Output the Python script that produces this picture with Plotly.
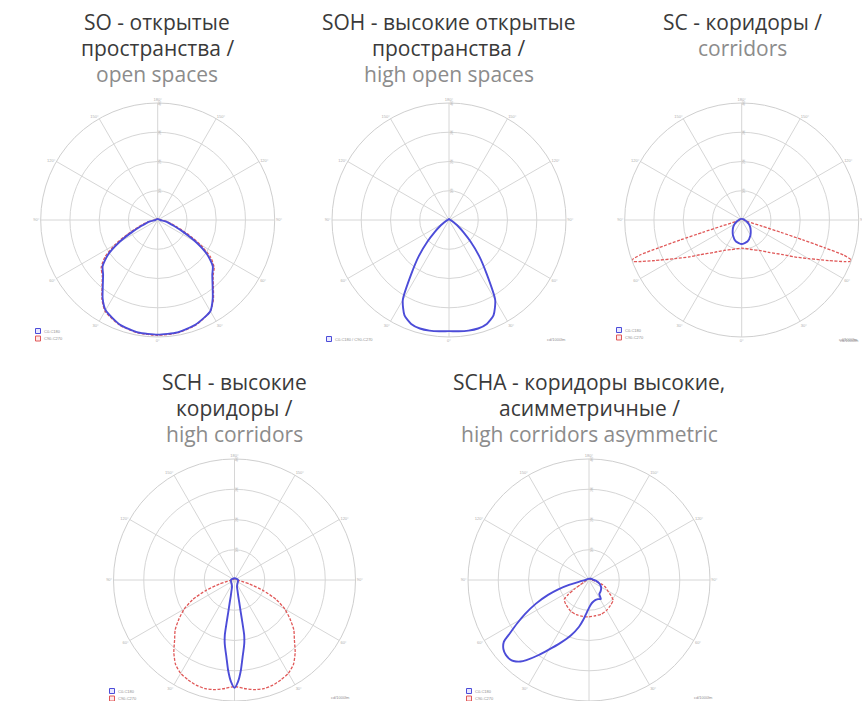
import plotly.graph_objects as go

W, H = 862, 701

# ---------------- data (gamma angle in degrees, 0 = nadir, + = right side) ----------------
so_theta = [-180, -90, -80, -75, -70, -65, -60, -55, -50, -45, -40, -35, -30, -20, -10, 0,
            10, 20, 30, 35, 40, 45, 50, 55, 60, 65, 70, 75, 80, 90, 180]
so_blue = [0.01, 0.02, 0.06, 0.10, 0.15, 0.24, 0.38, 0.52, 0.615, 0.66, 0.73, 0.82, 0.89, 0.95, 0.975, 0.98,
           0.975, 0.95, 0.90, 0.82, 0.73, 0.66, 0.615, 0.52, 0.38, 0.24, 0.15, 0.10, 0.06, 0.02, 0.01]
so_red = [0.01, 0.03, 0.08, 0.12, 0.18, 0.28, 0.42, 0.55, 0.63, 0.67, 0.74, 0.83, 0.90, 0.955, 0.98, 0.985,
          0.98, 0.955, 0.90, 0.83, 0.74, 0.67, 0.63, 0.55, 0.42, 0.28, 0.18, 0.12, 0.08, 0.03, 0.01]

soh_theta = [-180, -90, -80, -70, -60, -55, -50, -45, -40, -35, -30, -25, -20, -15, -10, -5, 0,
             5, 10, 15, 20, 25, 30, 35, 40, 45, 50, 55, 60, 70, 80, 90, 180]
soh_blue = [0.01, 0.01, 0.02, 0.03, 0.06, 0.10, 0.16, 0.26, 0.40, 0.56, 0.79, 0.90, 0.945, 0.96, 0.96, 0.955, 0.95,
            0.955, 0.96, 0.96, 0.945, 0.90, 0.79, 0.56, 0.40, 0.26, 0.16, 0.10, 0.06, 0.03, 0.02, 0.01, 0.01]

sc_blue_theta = [-180, -120, -90, -80, -70, -60, -50, -40, -30, -15, 0, 15, 30, 40, 50, 60, 70, 80, 90, 120, 180]
sc_blue = [0.01, 0.015, 0.025, 0.035, 0.05, 0.07, 0.095, 0.12, 0.15, 0.19, 0.205, 0.19, 0.15, 0.12, 0.095,
           0.07, 0.05, 0.035, 0.025, 0.015, 0.01]
sc_red_theta = [-180, -90, -80, -75, -73, -72.5, -72, -71.5, -71, -70, -69, -68, -65, -60, -55, -50, -40, -30, -20, 0,
                20, 30, 40, 50, 55, 60, 65, 68, 69, 70, 71, 71.5, 72, 72.5, 73, 75, 80, 90, 180]
sc_red = [0.01, 0.02, 0.03, 0.06, 0.18, 0.35, 0.55, 0.75, 0.92, 0.995, 0.99, 0.95, 0.82, 0.66, 0.55, 0.46, 0.36, 0.30, 0.27, 0.24,
          0.27, 0.30, 0.36, 0.46, 0.55, 0.66, 0.82, 0.95, 0.99, 0.995, 0.92, 0.75, 0.55, 0.35, 0.18, 0.06, 0.03, 0.02, 0.01]

sch_red_theta = [-180, -90, -80, -75, -70, -65, -60, -55, -50, -45, -40, -35, -30, -25, -20, -15, -10, -5, 0,
                 5, 10, 15, 20, 25, 30, 35, 40, 45, 50, 55, 60, 65, 70, 75, 80, 90, 180]
sch_red = [0.01, 0.02, 0.06, 0.13, 0.25, 0.38, 0.48, 0.56, 0.64, 0.70, 0.78, 0.85, 0.89, 0.91, 0.925, 0.93, 0.92, 0.90, 0.88,
           0.90, 0.92, 0.93, 0.925, 0.91, 0.89, 0.85, 0.78, 0.70, 0.64, 0.56, 0.48, 0.38, 0.25, 0.13, 0.06, 0.02, 0.01]
sch_blue_theta = [-180, -120, -90, -50, -30, -20, -15, -13, -12, -11, -10.5, -10, -9, -8, -6, -4, -2, 0,
                  2, 4, 6, 8, 9, 10, 10.5, 11, 12, 13, 15, 20, 30, 50, 90, 120, 180]
sch_blue = [0.015, 0.02, 0.03, 0.035, 0.045, 0.06, 0.10, 0.14, 0.19, 0.27, 0.36, 0.46, 0.52, 0.56, 0.64, 0.75, 0.84, 0.89,
            0.84, 0.75, 0.64, 0.56, 0.52, 0.46, 0.36, 0.27, 0.19, 0.14, 0.10, 0.06, 0.045, 0.035, 0.03, 0.02, 0.015]

scha_blue_theta = [-180, -120, -90, -84, -80, -76, -73, -70, -66, -62, -59, -56, -54, -51, -48, -45, -43, -40, -38, -34,
                   -30, -25, -18, -12, -8, -4, 0, 5, 10, 16, 25, 32, 36, 45, 57, 70, 83, 90, 120, 180]
scha_blue = [0.01, 0.015, 0.03, 0.05, 0.085, 0.17, 0.27, 0.36, 0.48, 0.60, 0.69, 0.79, 0.87, 0.91, 0.925, 0.925, 0.915,
             0.88, 0.84, 0.75, 0.665, 0.58, 0.48, 0.395, 0.33, 0.27, 0.23, 0.20, 0.185, 0.175, 0.175, 0.185, 0.145,
             0.135, 0.12, 0.095, 0.06, 0.04, 0.02, 0.01]
scha_red_theta = [-180, -90, -70, -62, -58, -55, -52, -48, -42, -30, -20, -10, 0, 10, 20, 30, 40, 50, 55, 58, 65, 71,
                  80, 90, 180]
scha_red = [0.01, 0.02, 0.04, 0.08, 0.145, 0.21, 0.26, 0.27, 0.28, 0.30, 0.305, 0.305, 0.305, 0.30, 0.30, 0.29, 0.275,
            0.26, 0.22, 0.19, 0.155, 0.12, 0.05, 0.02, 0.01]

angle_ticks = [0, 30, 60, 90, 120, 150, 180, 210, 240, 270, 300, 330]
angle_labels = ["0°", "30°", "60°", "90°", "120°", "150°", "180°", "150°", "120°", "90°", "60°", "30°"]
ring_vals = [0.25, 0.5, 0.75, 1.0]
ring_labels = ["100", "200", "300", "400"]

titles_ru = [["SO - открытые", "пространства /"],
             ["SOH - высокие открытые", "пространства /"],
             ["SC - коридоры /"],
             ["SCH - высокие", "коридоры /"],
             ["SCHA - коридоры высокие,", "асимметричные /"]]
titles_en = ["open spaces", "high open spaces", "corridors", "high corridors", "high corridors asymmetric"]

BLUE = "#4c4cd8"
RED = "#e05858"

# ---------------- layout helpers ----------------
# (center x, center y, radius) in pixels for each polar
geo = [(157.7, 220, 117), (449, 220, 117), (741.7, 220, 117), (234.5, 580, 121), (589, 580, 121)]


def dom(cx, cy, r):
    x0, x1 = (cx - r) / W, (cx + r) / W
    y0, y1 = 1 - (cy + r) / H, 1 - (cy - r) / H
    return dict(x=[max(0, x0), min(1, x1)], y=[max(0, y0), min(1, y1)])


def polar_cfg(i):
    cx, cy, r = geo[i]
    return dict(
        domain=dom(cx, cy, r),
        bgcolor="white",
        angularaxis=dict(rotation=-90, direction="counterclockwise", tickvals=angle_ticks,
                         ticktext=angle_labels, tickfont=dict(size=4, color="#b0b0b0", family="Arial"),
                         showgrid=True, gridcolor="#d6d6d6", gridwidth=1, linecolor="#cfcfcf",
                         linewidth=1, ticks="", showline=True),
        radialaxis=dict(range=[0, 1], tickvals=ring_vals, ticktext=ring_labels, angle=90,
                        tickangle=0, tickfont=dict(size=3, color="#b8b8b8", family="Arial"),
                        showline=False, showgrid=True, gridcolor="#d6d6d6", gridwidth=1, ticks=""),
    )


fig = go.Figure()

series = [
    (0, so_theta, so_red, "red"), (0, so_theta, so_blue, "blue"),
    (1, soh_theta, soh_blue, "blue"),
    (2, sc_red_theta, sc_red, "red"), (2, sc_blue_theta, sc_blue, "blue"),
    (3, sch_red_theta, sch_red, "red"), (3, sch_blue_theta, sch_blue, "blue"),
    (4, scha_red_theta, scha_red, "red"), (4, scha_blue_theta, scha_blue, "blue"),
]
for idx, th, rr, col in series:
    sub = "polar" if idx == 0 else f"polar{idx + 1}"
    if col == "red":
        line = dict(color=RED, width=1.3, dash="3px,1.5px", shape="spline", smoothing=0.6)
    else:
        line = dict(color=BLUE, width=1.9, shape="spline", smoothing=0.6)
    fig.add_trace(go.Scatterpolar(theta=th, r=rr, mode="lines", line=line, subplot=sub,
                                  showlegend=False, hoverinfo="skip"))

layout = dict(width=W, height=H, margin=dict(l=0, r=0, t=0, b=0), paper_bgcolor="white",
              plot_bgcolor="white", showlegend=False)
for i in range(5):
    layout["polar" if i == 0 else f"polar{i + 1}"] = polar_cfg(i)
fig.update_layout(**layout)

# ---------------- titles ----------------
FONT = "Open Sans"
FS = 21
title_pos = [(157, 22), (449, 22), (742, 22), (234, 382), (589, 382)]
spacing = [26, 26, 26, 26, 26]
for i, (tx, ty) in enumerate(title_pos):
    lines = titles_ru[i]
    for k, txt in enumerate(lines):
        fig.add_annotation(x=tx / W, y=1 - (ty + k * spacing[i]) / H, xref="paper", yref="paper",
                           text=txt, showarrow=False, xanchor="center", yanchor="middle",
                           font=dict(family=FONT, size=FS, color="#3a3a3a"))
    k = len(lines)
    fig.add_annotation(x=tx / W, y=1 - (ty + k * spacing[i]) / H, xref="paper", yref="paper",
                       text=titles_en[i], showarrow=False, xanchor="center", yanchor="middle",
                       font=dict(family=FONT, size=FS, color="#8c8c8c"))

# ---------------- tiny legends ----------------
legend_pos = [  # (x, y of first box, two entries?, unit label x, unit label y)
    (38, 331, True, 849, 340),
    (329, 339, False, 556, 339),
    (619, 330, True, 848, 339),
    (112, 691, True, 340, 697),
    (469, 691, True, 703, 697),
]
for lx, ly, two, ux, uy in legend_pos:
    entries = [(BLUE, "C0-C180" if two else "C0-C180 / C90-C270")]
    if two:
        entries.append((RED, "C90-C270"))
    for j, (c, t) in enumerate(entries):
        yy = ly + j * 7.5
        fig.add_shape(type="rect", xref="paper", yref="paper",
                      x0=(lx - 2.5) / W, x1=(lx + 2.5) / W, y0=1 - (yy + 2.5) / H, y1=1 - (yy - 2.5) / H,
                      line=dict(color=c, width=1), fillcolor="#e8e8ff" if c == BLUE else "#ffe8e8")
        fig.add_annotation(x=(lx + 4) / W, y=1 - yy / H, xref="paper", yref="paper", text=t,
                           showarrow=False, xanchor="left", yanchor="middle",
                           font=dict(family="Arial", size=4, color="#909090"))
    fig.add_annotation(x=ux / W, y=1 - uy / H, xref="paper", yref="paper", text="cd/1000lm",
                       showarrow=False, xanchor="center", yanchor="middle",
                       font=dict(family="Arial", size=4, color="#909090"))

fig.write_html("out.html", config={"displayModeBar": False, "staticPlot": True},
               post_script="document.body.style.margin='0';document.body.style.overflow='hidden';")
